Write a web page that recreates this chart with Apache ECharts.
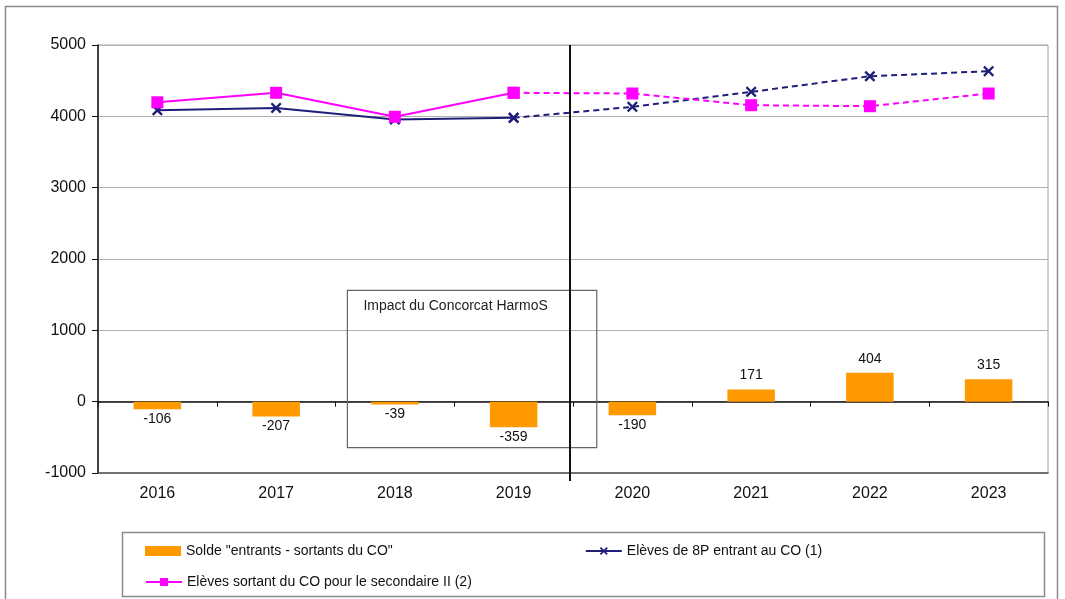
<!DOCTYPE html>
<html>
<head>
<meta charset="utf-8">
<script src="https://cdn.jsdelivr.net/npm/echarts@6/dist/echarts.min.js"></script>
<style>
  html, body { margin: 0; padding: 0; background: #fff; }
  #chart { width: 1065px; height: 599px; }
</style>
</head>
<body>
<div id="chart"></div>
<script>
const years = ["2016", "2017", "2018", "2019", "2020", "2021", "2022", "2023"];
const solde = [-106, -207, -39, -359, -190, 171, 404, 315];
const entrants8P = [4085, 4118, 3955, 3979, 4133, 4343, 4562, 4633];
const sortantsSec2 = [4197, 4330, 3993, 4330, 4320, 4156, 4142, 4320];
const yTicks = [-1000, 0, 1000, 2000, 3000, 4000, 5000];
const lastObserved = 3; // index of 2019: solid before, dashed after

const nameBar = 'Solde "entrants - sortants du CO"';
const nameBlue = "Elèves de 8P entrant au CO (1)";
const nameBlueProj = "Elèves de 8P entrant au CO (proj)";
const namePink = "Elèves sortant du CO pour le secondaire II (2)";
const namePinkProj = "Elèves sortant du CO pour le secondaire II (proj)";

const orange = "#FF9900";
const navy = "#1F1F7A";
const pink = "#FF00FF";
const font = "Liberation Sans, Arial, sans-serif";
const xSymbol = "path://M0,1.5L1.5,0L5,3.5L8.5,0L10,1.5L6.5,5L10,8.5L8.5,10L5,6.5L1.5,10L0,8.5L3.5,5Z";

const solidPart = (arr) => arr.map((v, i) => (i <= lastObserved ? v : null));
const dashedPart = (arr) => arr.map((v, i) => (i >= lastObserved ? v : null));

const GRID = { left: 98, right: 17, top: 45, bottom: 126 };

const chart = echarts.init(document.getElementById("chart"));

chart.setOption({
    backgroundColor: "#fff",
    animation: false,
    textStyle: { fontFamily: font },
    grid: {
        left: GRID.left,
        right: GRID.right,
        top: GRID.top,
        bottom: GRID.bottom,
        show: true,
        borderColor: "#a0a0a0",
        borderWidth: 1,
    },
    legend: [
        {
            left: 140,
            top: 539,
            itemGap: 192,
            itemWidth: 36,
            itemHeight: 10,
            textStyle: { fontSize: 14, color: "#111", fontFamily: font },
            data: [
                { name: nameBar, icon: "rect" },
                { name: nameBlue },
            ],
        },
        {
            left: 140,
            top: 570,
            itemWidth: 36,
            itemHeight: 10,
            textStyle: { fontSize: 14, color: "#111", fontFamily: font },
            data: [{ name: namePink }],
        },
    ],
    xAxis: [
        {
            type: "category",
            data: years,
            axisLine: { onZero: false, lineStyle: { color: "#555", width: 1.5 } },
            axisTick: { show: false },
            axisLabel: { fontSize: 16, color: "#111", margin: 13 },
        },
        {
            type: "category",
            data: years,
            position: "bottom",
            axisLine: { onZero: true, lineStyle: { color: "#111", width: 1.5 } },
            axisTick: { show: true, length: 5, lineStyle: { color: "#111" } },
            axisLabel: { show: false },
        },
    ],
    yAxis: {
        type: "value",
        min: yTicks[0],
        max: yTicks[yTicks.length - 1],
        interval: 1000,
        axisLine: { show: true, lineStyle: { color: "#111", width: 1.5 } },
        axisTick: { show: true, length: 6, lineStyle: { color: "#111" } },
        axisLabel: { fontSize: 16, color: "#111", margin: 12, formatter: (v) => String(v) },
        splitLine: { lineStyle: { color: "#b0b0b0", width: 1 } },
    },
    series: [
        {
            name: nameBar,
            type: "bar",
            barWidth: "40%",
            data: solde.map((v) => ({
                value: v,
                label: { position: v >= 0 ? "top" : "bottom", distance: v >= 0 ? 7 : 3 },
            })),
            itemStyle: { color: orange },
            label: {
                show: true,
                fontSize: 14,
                color: "#111",
                formatter: (p) => p.value,
            },
            z: 2,
        },
        {
            name: nameBlue,
            type: "line",
            data: solidPart(entrants8P),
            symbol: xSymbol,
            symbolSize: 11,
            lineStyle: { color: navy, width: 2 },
            itemStyle: { color: navy },
            z: 3,
        },
        {
            name: nameBlueProj,
            type: "line",
            data: dashedPart(entrants8P),
            symbol: xSymbol,
            symbolSize: 11,
            lineStyle: { color: navy, width: 2, type: [6, 4] },
            itemStyle: { color: navy },
            z: 3,
        },
        {
            name: namePink,
            type: "line",
            data: solidPart(sortantsSec2),
            symbol: "rect",
            symbolSize: 12,
            lineStyle: { color: pink, width: 2 },
            itemStyle: { color: pink },
            z: 4,
        },
        {
            name: namePinkProj,
            type: "line",
            data: dashedPart(sortantsSec2),
            symbol: "rect",
            symbolSize: 12,
            lineStyle: { color: pink, width: 2, type: [6, 4] },
            itemStyle: { color: pink },
            z: 4,
        },
    ],
});

// annotation box, vertical separator and frames, placed through the axes
const band = (1065 - GRID.left - GRID.right) / years.length;
const xAt = (idx) => GRID.left + band * idx; // idx in band units from left edge
const yAt = (v) => chart.convertToPixel({ yAxisIndex: 0 }, v);

const boxLeft = xAt(2.1);
const boxRight = xAt(4.2);
const boxTop = yAt(1560);
const boxBottom = yAt(-645);
const sepX = xAt(4) - 3;

chart.setOption({
    graphic: [
        {
            type: "rect",
            shape: { x: 5.5, y: 6.5, width: 1052, height: 620 },
            style: { fill: null, stroke: "#8a8a8a", lineWidth: 1.5 },
            silent: true,
        },
        {
            type: "rect",
            shape: { x: 122.5, y: 532.5, width: 922, height: 64 },
            style: { fill: null, stroke: "#8a8a8a", lineWidth: 1.5 },
            silent: true,
        },
        {
            type: "rect",
            shape: { x: boxLeft, y: boxTop, width: boxRight - boxLeft, height: boxBottom - boxTop },
            style: { fill: null, stroke: "#666", lineWidth: 1.2 },
            silent: true,
            z: 10,
        },
        {
            type: "text",
            x: boxLeft + 16,
            y: boxTop + 9,
            style: {
                text: "Impact du Concorcat HarmoS",
                font: "14px " + font,
                fill: "#222",
            },
            silent: true,
            z: 10,
        },
        {
            type: "line",
            shape: { x1: sepX, y1: GRID.top, x2: sepX, y2: 599 - GRID.bottom + 8 },
            style: { stroke: "#111", lineWidth: 2 },
            silent: true,
            z: 10,
        },
    ],
});
</script>
</body>
</html>
